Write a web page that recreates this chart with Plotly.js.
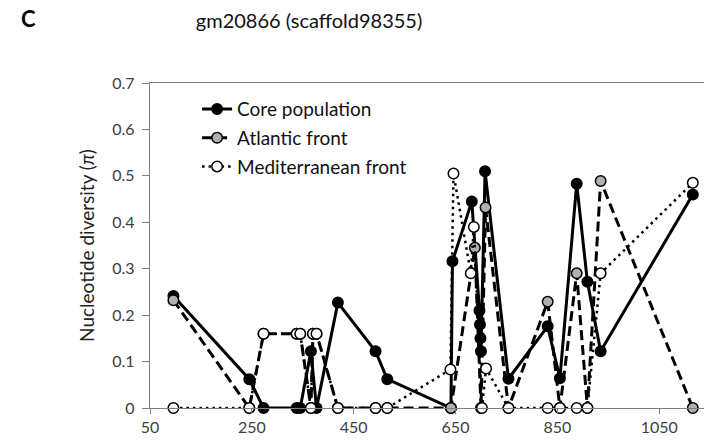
<!DOCTYPE html>
<html>
<head>
<meta charset="utf-8">
<script src="https://cdn.plot.ly/plotly-3.0.1.min.js"></script>
<style>html,body{margin:0;padding:0;background:#fff;}#chart{width:704px;height:445px;}</style>
</head>
<body>
<div id="chart"></div>
<script>
// Positions (bp) and nucleotide diversity values
const corePos = [96, 245, 273, 338, 345, 366, 377, 419, 493, 516, 641, 644, 682, 697, 698, 699, 700, 708, 754, 831, 855, 888, 909, 935, 1116];
const coreVal = [0.241, 0.062, 0, 0, 0, 0.122, 0, 0.227, 0.122, 0.062, 0, 0.316, 0.445, 0.21, 0.18, 0.15, 0.122, 0.510, 0.063, 0.176, 0.064, 0.483, 0.272, 0.122, 0.460];

const atlPos = [96, 245, 273, 338, 345, 366, 370, 377, 419, 493, 516, 641, 688, 700, 709, 754, 831, 855, 888, 909, 935, 1116];
const atlVal = [0.232, 0, 0.16, 0.16, 0.16, 0, 0.16, 0.16, 0, 0, 0, 0, 0.345, 0, 0.432, 0, 0.229, 0, 0.290, 0, 0.489, 0];

const medPos = [96, 245, 273, 338, 345, 366, 370, 377, 419, 493, 516, 640, 646, 680, 686, 702, 710, 754, 831, 855, 888, 909, 935, 1116];
const medVal = [0, 0, 0.16, 0.16, 0.16, 0, 0.16, 0.16, 0, 0, 0, 0.083, 0.505, 0.29, 0.39, 0, 0.085, 0, 0, 0, 0, 0, 0.29, 0.485];

const seriesNames = ["Core population", "Atlantic front", "Mediterranean front"];
const xTickVals = [50, 250, 450, 650, 850, 1050];
const yTickVals = [0, 0.1, 0.2, 0.3, 0.4, 0.5, 0.6, 0.7];
const yTickText = ["0", "0.1", "0.2", "0.3", "0.4", "0.5", "0.6", "0.7"];

const FONT = "Lato, 'Open Sans', sans-serif";

const traces = [
  {
    x: corePos, y: coreVal, name: seriesNames[0], type: "scatter", mode: "lines+markers",
    legendgroup: "a", cliponaxis: false,
    line: {color: "#000", width: 3},
    marker: {symbol: "circle", size: 10.5, color: "#000", line: {color: "#000", width: 1.5}}
  },
  {
    x: atlPos, y: atlVal, name: seriesNames[1], type: "scatter", mode: "lines+markers",
    legendgroup: "b", cliponaxis: false,
    line: {color: "#000", width: 3, dash: "10px,5px"},
    marker: {symbol: "circle", size: 10.5, color: "#b0b0b0", line: {color: "#000", width: 1.5}}
  },
  {
    x: medPos, y: medVal, name: seriesNames[2], type: "scatter", mode: "lines+markers",
    legendgroup: "c", cliponaxis: false,
    line: {color: "#000", width: 2.5, dash: "2.5px,4px"},
    marker: {symbol: "circle", size: 10.5, color: "#fff", line: {color: "#000", width: 1.5}}
  }
];

const layout = {
  width: 704, height: 445,
  margin: {l: 150, r: 0, t: 83, b: 37, pad: 0},
  paper_bgcolor: "#fff", plot_bgcolor: "#fff",
  font: {family: FONT, color: "#222"},
  title: {
    text: "gm20866 (scaffold98355)",
    font: {family: FONT, size: 20, color: "#111"},
    x: 0.439, xref: "container", xanchor: "center",
    y: 0.952, yref: "container", yanchor: "middle"
  },
  xaxis: {
    range: [50, 1138],
    tickmode: "array", tickvals: xTickVals,
    ticks: "outside", ticklen: 5, tickwidth: 1, tickcolor: "#7f7f7f",
    showline: true, linecolor: "#7f7f7f", linewidth: 1.2, mirror: true,
    showgrid: false, zeroline: false,
    tickfont: {family: FONT, size: 16, color: "#404040"}
  },
  yaxis: {
    range: [0, 0.7],
    tickmode: "array", tickvals: yTickVals, ticktext: yTickText,
    ticks: "outside", ticklen: 7, tickwidth: 1, tickcolor: "#7f7f7f",
    ticklabelstandoff: 4,
    showline: true, linecolor: "#7f7f7f", linewidth: 1.2,
    showgrid: false, zeroline: false,
    tickfont: {family: FONT, size: 16, color: "#404040"},
    title: {text: "Nucleotide diversity (<i>π</i>)", font: {family: FONT, size: 19, color: "#222"}, standoff: 12}
  },
  showlegend: true,
  legend: {
    x: 0.085, y: 0.978, xanchor: "left", yanchor: "top",
    bgcolor: "rgba(0,0,0,0)", borderwidth: 0,
    font: {family: FONT, size: 19, color: "#111"},
    traceorder: "grouped", tracegroupgap: 1
  },
  annotations: [
    {text: "<b>C</b>", xref: "paper", yref: "paper", x: -0.22, y: 1.2, xanchor: "center", yanchor: "middle",
     showarrow: false, font: {family: FONT, size: 22, color: "#000"}}
  ]
};

Plotly.newPlot("chart", traces, layout, {displayModeBar: false, staticPlot: true});
</script>
</body>
</html>
